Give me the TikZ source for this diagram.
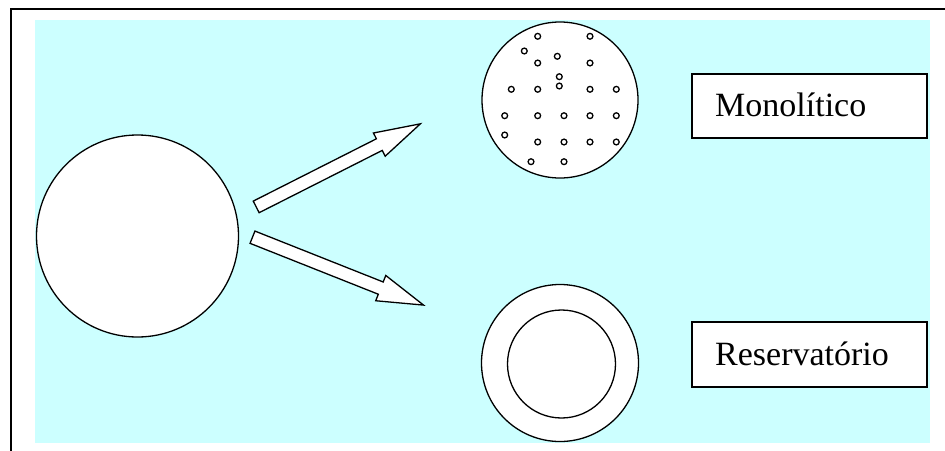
\documentclass[tikz,border=0pt]{standalone}
\usepackage{fontspec}
\setmainfont{Liberation Serif}
\definecolor{bgcyan}{RGB}{204,255,255}
\tikzset{
  outl/.style={draw=black, line width=1.3pt, fill=white},
  dotc/.style={circle, draw=black, line width=1.3pt, fill=white, minimum size=5.8pt, inner sep=0pt},
  lbox/.style={rectangle, draw=black, line width=1.4pt, fill=white, inner sep=0pt},
  ltext/.style={anchor=base west, inner sep=0pt, font=\fontsize{34}{40}\selectfont},
  blockarrow/.style={draw=black, line width=1.3pt, fill=white, line join=miter}
}
\begin{document}
\begin{tikzpicture}[x=1pt,y=-1pt]
\useasboundingbox (0,0) rectangle (945,450);
\clip (0,0) rectangle (945,450);
% frame
\draw[line width=2pt] (11,460) -- (11,9) -- (960,9);
% background
\fill[bgcyan] (35,20) rectangle (930,443);
% big circle
\node[circle, outl, minimum size=202pt, inner sep=0pt] (big) at (137.5,236) {};
% monolithic sphere
\node[circle, outl, minimum size=156pt, inner sep=0pt] (mono) at (560,100) {};
\foreach \px/\py [count=\i] in {537.7/36.3, 590/36.3, 524.3/51, 557.3/56.3, 537.7/63, 590/63,
  559.3/76.7, 559.3/86, 511.3/89.3, 537.7/89.3, 590/89.3, 616.3/89.3,
  504.7/115.7, 537.7/115.7, 564/115.7, 590/115.7, 616.3/115.7,
  504.7/135, 537.7/142, 564/142, 590/142, 616.3/142, 531/161.7, 564/161.7}
  \node[dotc] (d\i) at (\px,\py) {};
% reservoir sphere
\node[circle, outl, minimum size=157pt, inner sep=0pt] (res) at (560,363) {};
\node[circle, outl, minimum size=108pt, inner sep=0pt] (core) at (561.5,364) {};
% arrows
\begin{scope}[shift={(256.2,206.9)}, rotate=26.84]
  \coordinate (a1tail) at (0,0);
  \coordinate (a1tip) at (184,0);
  \draw[blockarrow] (0,-6.5) -- (138,-6.5) -- (138,-13) -- (a1tip) -- (138,13) -- (138,6.5) -- (0,6.5) -- cycle;
\end{scope}
\begin{scope}[shift={(252.5,237.2)}, rotate=-21.65]
  \coordinate (a2tail) at (0,0);
  \coordinate (a2tip) at (184,0);
  \draw[blockarrow] (0,-6.6) -- (138,-6.6) -- (138,-13.6) -- (a2tip) -- (138,13.6) -- (138,6.6) -- (0,6.6) -- cycle;
\end{scope}
% labels
\node[lbox, minimum width=235pt, minimum height=64pt] (monobox) at (809.5,106) {};
\node[ltext] (monotext) at (715,116.7) {Monolítico};
\node[lbox, minimum width=235pt, minimum height=65pt] (resbox) at (809.5,354.5) {};
\node[ltext] (restext) at (715,365) {Reservatório};
\end{tikzpicture}
\end{document}
